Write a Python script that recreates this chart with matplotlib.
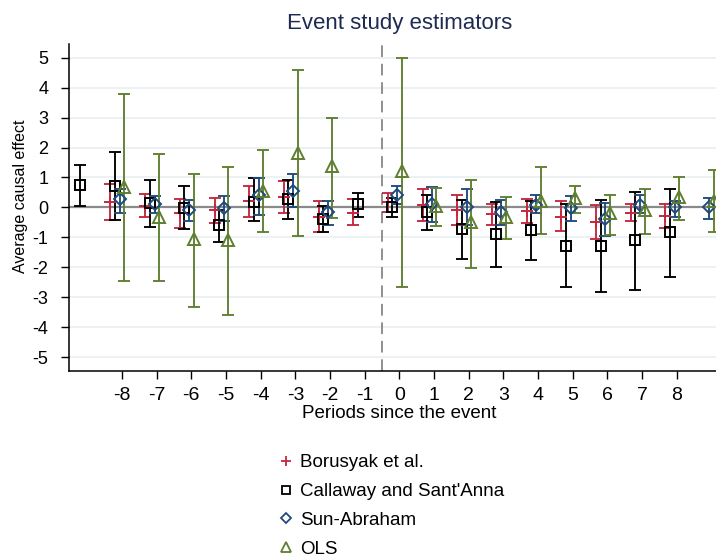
import matplotlib
matplotlib.use("Agg")
import matplotlib.pyplot as plt
from matplotlib.lines import Line2D
import numpy as np

plt.rcParams['font.family'] = ['Liberation Sans', 'DejaVu Sans']
plt.rcParams['axes.unicode_minus'] = False

# event-time estimates with 95% bounds, one block per estimator
bjs_periods = [-8, -7, -6, -5, -4, -3, -2, -1, 0, 1, 2, 3, 4, 5, 6, 7, 8]
bjs_est = [0.17, 0.06, -0.20, -0.09, 0.20, 0.35, -0.31, -0.17, 0.17, 0.09, -0.07, -0.22, -0.11, -0.31, -0.50, -0.18, -0.29]
bjs_hi = [0.79, 0.44, 0.29, 0.30, 0.72, 0.89, 0.21, 0.28, 0.49, 0.62, 0.42, 0.13, 0.29, 0.20, 0.07, 0.13, 0.10]
bjs_lo = [-0.42, -0.31, -0.69, -0.51, -0.33, -0.19, -0.83, -0.59, -0.15, -0.45, -0.57, -0.57, -0.51, -0.80, -1.07, -0.45, -0.67]

cs_periods = [-9, -8, -7, -6, -5, -4, -3, -2, -1, 0, 1, 2, 3, 4, 5, 6, 7, 8]
cs_est = [0.74, 0.73, 0.14, -0.01, -0.59, 0.19, 0.27, -0.40, 0.10, 0.02, -0.15, -0.73, -0.89, -0.76, -1.28, -1.28, -1.10, -0.82]
cs_hi = [1.43, 1.85, 0.90, 0.71, -0.09, 0.97, 0.91, 0.05, 0.48, 0.32, 0.43, 0.24, 0.18, 0.23, 0.11, 0.24, 0.53, 0.61]
cs_lo = [0.05, -0.41, -0.64, -0.73, -1.15, -0.46, -0.38, -0.83, -0.31, -0.33, -0.76, -1.72, -1.98, -1.76, -2.67, -2.83, -2.76, -2.31]

sa_periods = [-8, -7, -6, -5, -4, -3, -2, 0, 1, 2, 3, 4, 5, 6, 7, 8, 9]
sa_est = [0.27, 0.13, -0.09, -0.03, 0.41, 0.55, -0.15, 0.41, 0.13, 0.02, -0.15, 0.08, -0.03, -0.39, 0.08, 0.00, 0.00]
sa_hi = [0.60, 0.38, 0.24, 0.39, 0.97, 1.11, 0.21, 0.71, 0.67, 0.62, 0.24, 0.43, 0.38, 0.14, 0.41, 0.22, 0.30]
sa_lo = [-0.20, -0.19, -0.45, -0.45, -0.26, 0.00, -0.59, 0.10, -0.48, -0.59, -0.59, -0.17, -0.46, -0.95, -0.18, -0.31, -0.37]

ols_periods = [-8, -7, -6, -5, -4, -3, -2, 0, 1, 2, 3, 4, 5, 6, 7, 8, 9]
ols_est = [0.69, -0.31, -1.07, -1.09, 0.55, 1.83, 1.38, 1.21, 0.05, -0.50, -0.31, 0.21, 0.30, -0.20, -0.09, 0.35, 0.20]
ols_hi = [3.80, 1.78, 1.11, 1.34, 1.93, 4.60, 3.00, 5.00, 0.65, 0.93, 0.35, 1.34, 0.72, 0.41, 0.61, 1.00, 1.24]
ols_lo = [-2.45, -2.45, -3.33, -3.60, -0.83, -0.96, -0.35, -2.65, -0.61, -2.01, -1.06, -0.90, -0.20, -0.92, -0.89, -0.42, -0.81]

labels = ["Borusyak et al.", "Callaway and Sant'Anna", "Sun-Abraham", "OLS"]
xticks = list(range(-8, 9))

red = '#c4283f'
navy = '#1f4a7c'
green = '#5f7f30'

series = [
    (bjs_periods, bjs_est, bjs_lo, bjs_hi, -0.33, red, '+', 8.0),
    (cs_periods, cs_est, cs_lo, cs_hi, -0.20, 'black', 's', 7.2),
    (sa_periods, sa_est, sa_lo, sa_hi, -0.06, navy, 'D', 6.4),
    (ols_periods, ols_est, ols_lo, ols_hi, 0.07, green, '^', 8.0),
]

fig = plt.figure(figsize=(7.16, 5.56), dpi=100)
ax = fig.add_axes([0.0957, 0.3327, 0.9043, 0.589])

for y in range(-5, 6):
    if y != 0:
        ax.axhline(y, color='#e9eff2', lw=1.2, zorder=0)
ax.axhline(0, color='#8a8a8a', lw=1.6, zorder=1)
ax.axvline(-0.5, color='#8f8f8f', lw=1.4, ls=(0, (6, 3.5)), zorder=1)

for per, est, lo, hi, shift, col, mk, ms in series:
    x = np.array(per) + shift
    est = np.array(est)
    yerr = [est - np.array(lo), np.array(hi) - est]
    ax.errorbar(x, est, yerr=yerr, fmt='none', ecolor=col, elinewidth=1.35,
                capsize=4, capthick=1.35, zorder=3)
    ax.plot(x, est, ls='none', marker=mk, ms=ms, mfc='none', mec=col,
            mew=1.4, zorder=4)

ax.set_xlim(-9.54, 9.13)
ax.set_ylim(-5.46, 5.47)
ax.set_xticks(xticks)
ax.set_yticks(range(-5, 6))
ax.tick_params(axis='both', length=5.5, width=1, direction='out', labelsize=14, pad=6)
ax.tick_params(axis='y', labelsize=13, pad=9)
for s in ['top', 'right']:
    ax.spines[s].set_visible(False)
for s in ['left', 'bottom']:
    ax.spines[s].set_linewidth(1.1)

fig.text(0.558, 0.957, 'Event study estimators', ha='center', va='center',
         fontsize=16, color='#1e2a52')
fig.text(0.557, 0.256, 'Periods since the event', ha='center', va='center', fontsize=13.5)
fig.text(0.028, 0.647, 'Average causal effect', ha='center', va='center',
         rotation=90, fontsize=11.5)

handles = [Line2D([], [], ls='none', marker=mk, ms=ms * 0.85, mfc='none', mec=col, mew=1.3)
           for _, _, _, _, _, col, mk, ms in series]
fig.legend(handles, labels, loc='upper left', bbox_to_anchor=(0.387, 0.183),
           frameon=False, fontsize=13.5, handlelength=0.96, handletextpad=0.27,
           labelspacing=0.62, borderpad=0, borderaxespad=0)

fig.savefig('out.png', dpi=100)
